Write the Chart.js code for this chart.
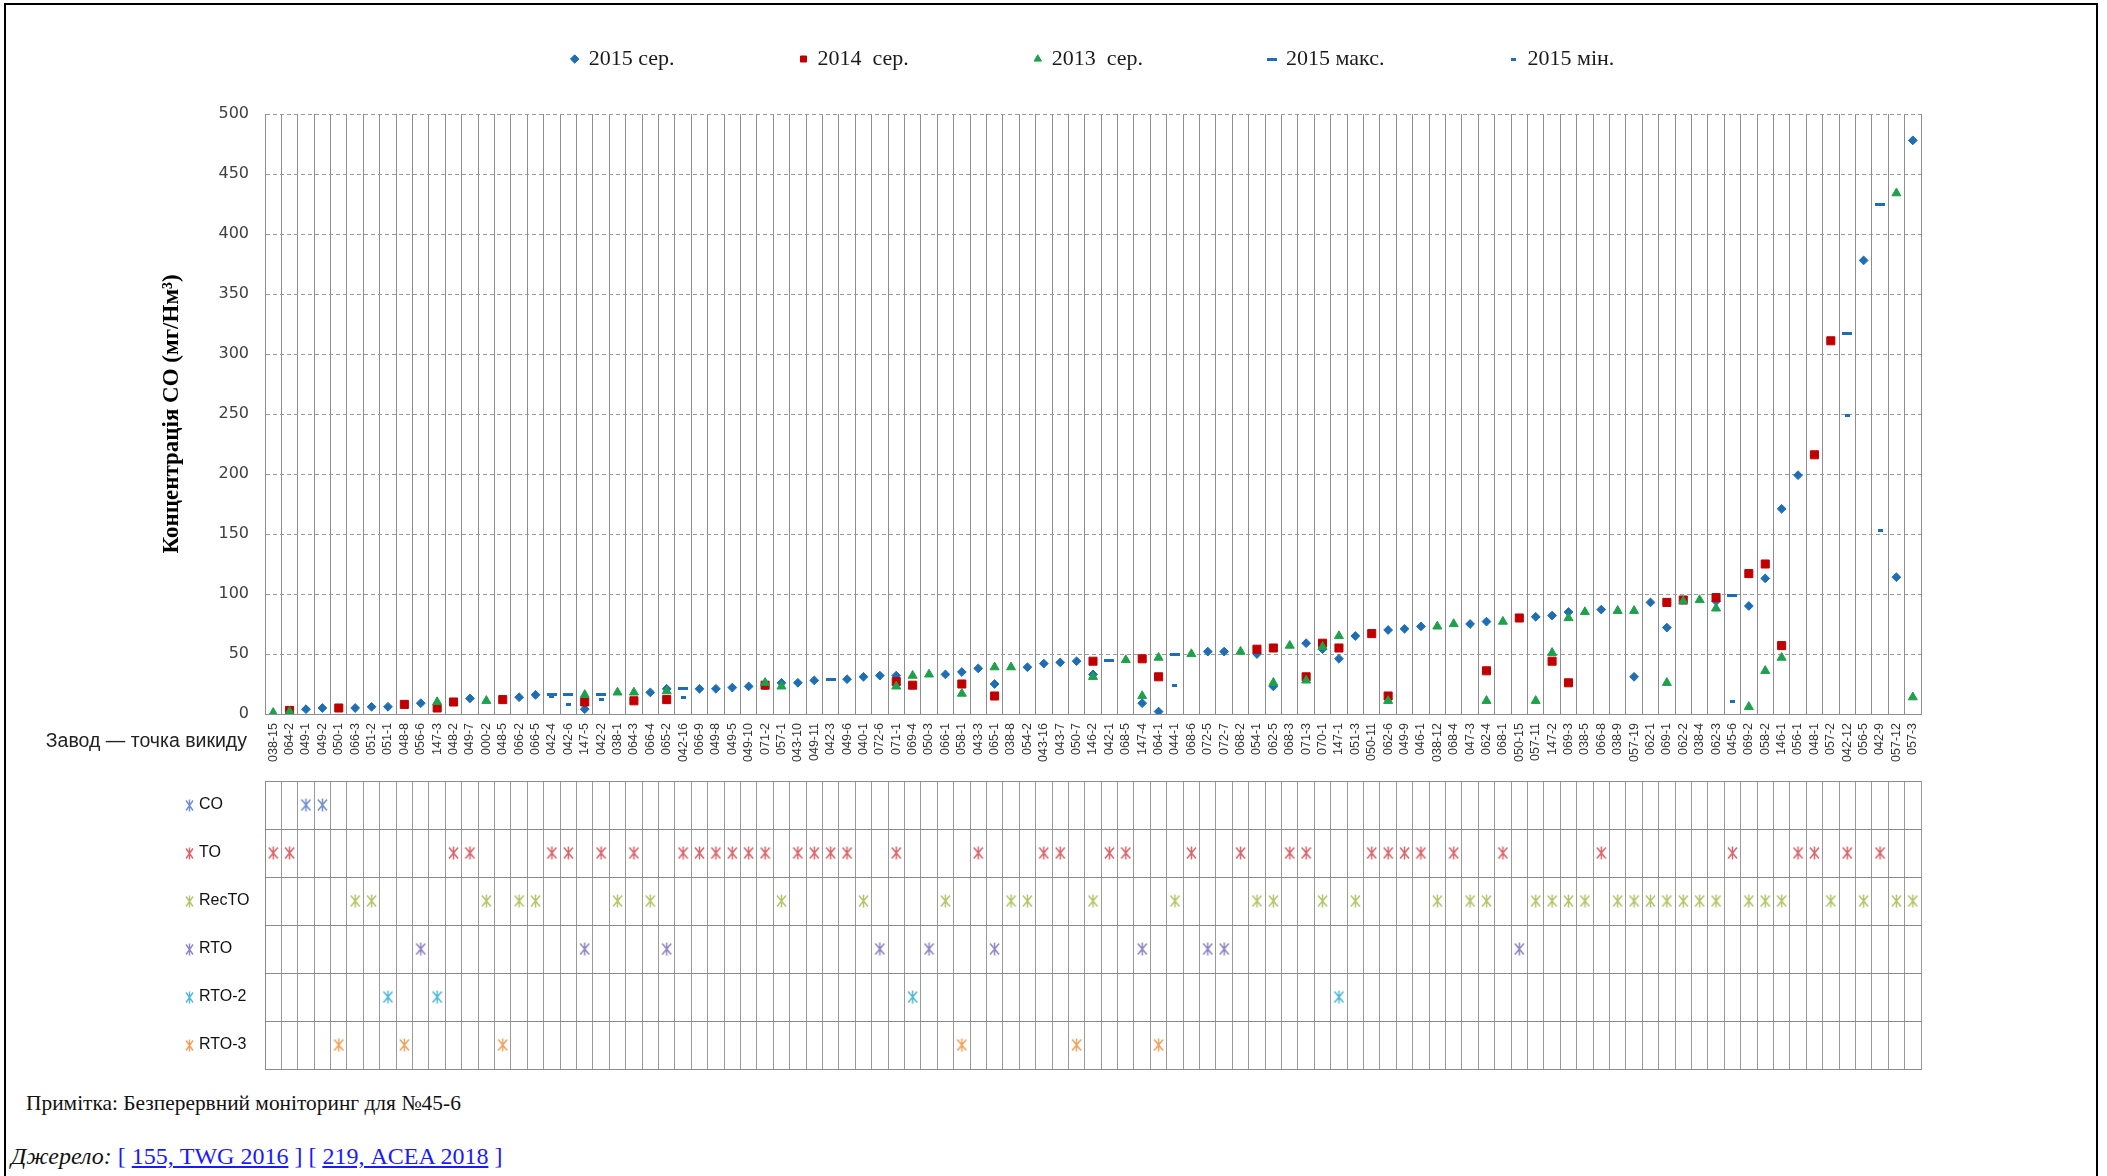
<!DOCTYPE html>
<html lang="uk">
<head>
<meta charset="utf-8">
<title>Концентрація CO</title>
<script src="https://cdn.jsdelivr.net/npm/chart.js@4.4.1/dist/chart.umd.min.js"></script>
<style>
  html, body { margin:0; padding:0; background:#fff; }
  body { position:relative; width:2107px; height:1176px; overflow:hidden; font-family:'Liberation Serif', serif; }
  #frame { position:absolute; left:4px; top:3px; width:2094px; height:1230px; border:2px solid #000; box-sizing:border-box; pointer-events:none; }
  #c1 { position:absolute; left:0; top:-78px; }
  #c2 { position:absolute; left:0; top:770px; }
  #xcap { position:absolute; left:0; width:247px; top:729px; text-align:right; font:19.5px/22px 'Liberation Sans', Arial, sans-serif; color:#222; white-space:nowrap; }
  #note { position:absolute; left:26px; top:1091px; font:21.4px/24px 'Liberation Serif', serif; color:#111; }
  #src { position:absolute; left:11px; top:1142px; font:24px/28px 'Liberation Serif', serif; color:#111; }
  #src .lk { color:#1a1aff; }
</style>
</head>
<body>
<canvas id="c1" width="2107" height="852"></canvas>
<canvas id="c2" width="2107" height="310"></canvas>
<div id="xcap">Завод — точка викиду</div>
<div id="note">Примітка: Безперервний моніторинг для №45-6</div>
<div id="src"><i>Джерело:</i> <span class="lk">[ <u>155, TWG 2016</u> ] [ <u>219, ACEA 2018</u> ]</span></div>
<div id="frame"></div>
<script>
// ---------------- DATA ----------------
const categories = ['038-15','064-2','049-1','049-2','050-1','066-3','051-2','051-1','048-8','056-6',
  '147-3','048-2','049-7','000-2','048-5','066-2','066-5','042-4','042-6','147-5',
  '042-2','038-1','064-3','066-4','065-2','042-16','066-9','049-8','049-5','049-10',
  '071-2','057-1','043-10','049-11','042-3','049-6','040-1','072-6','071-1','069-4',
  '050-3','066-1','058-1','043-3','065-1','038-8','054-2','043-16','043-7','050-7',
  '146-2','042-1','068-5','147-4','064-1','044-1','068-6','072-5','072-7','068-2',
  '054-1','062-5','068-3','071-3','070-1','147-1','051-3','050-11','062-6','049-9',
  '046-1','038-12','068-4','047-3','062-4','068-1','050-15','057-11','147-2','069-3',
  '038-5','066-8','038-9','057-19','062-1','069-1','062-2','038-4','062-3','045-6',
  '069-2','058-2','146-1','056-1','048-1','057-2','042-12','056-5','042-9','057-12',
  '057-3'];

const avg2015 = [
  null,null,4,5,null,5,6,6,null,9,
  null,null,13,null,null,14,16,null,null,4,
  null,null,null,18,21,null,21,21,22,23,
  24,26,26,28,null,29,31,32,32,null,
  null,33,35,38,25,null,39,42,43,44,
  33,null,null,9,2,null,null,52,52,null,
  50,23,null,59,54,46,65,null,70,71,
  73,null,null,75,77,null,null,81,82,85,
  null,87,null,31,93,72,null,null,94,null,
  90,113,171,199,null,null,null,378,null,114,
  478];

const avg2014 = [
  null,3,null,null,5,null,null,null,8,null,
  5,10,null,null,12,null,null,null,null,10,
  null,null,11,null,12,null,null,null,null,null,
  24,null,null,null,null,null,null,null,27,24,
  null,null,25,null,15,null,null,null,null,null,
  44,null,null,46,31,null,null,null,null,null,
  54,55,null,31,59,55,null,67,15,null,
  null,null,null,null,36,null,80,null,44,26,
  null,null,null,null,null,93,95,null,97,null,
  117,125,57,null,216,311,null,null,null,null,
  null];

const avg2013 = [
  1,2,null,null,null,null,null,null,null,null,
  10,null,null,11,null,null,null,null,null,16,
  null,18,18,null,19,null,null,null,null,null,
  26,23,null,null,null,null,null,null,23,32,
  33,null,17,null,39,39,null,null,null,null,
  31,null,45,15,47,null,50,null,null,52,
  null,26,57,28,56,65,null,null,11,null,
  null,73,75,null,11,77,null,11,51,80,
  85,null,86,86,null,26,94,95,88,null,
  6,36,47,null,null,null,null,null,null,434,
  14];

const max2015 = [
  null,null,null,null,null,null,null,null,null,null,
  null,null,null,null,null,null,null,16,16,null,
  16,null,null,null,null,21,null,null,null,null,
  null,null,null,null,29,null,null,null,null,null,
  null,null,null,null,null,null,null,null,null,null,
  null,45,null,null,null,50,null,null,null,null,
  null,null,null,null,null,null,null,null,null,null,
  null,null,null,null,null,null,null,null,null,null,
  null,null,null,null,null,null,null,null,null,99,
  null,null,null,null,null,null,317,null,425,null,
  null];

const min2015 = [
  null,null,null,null,null,null,null,null,null,null,
  null,null,null,null,null,null,null,15,8,null,
  12.5,null,null,null,null,14,null,null,null,null,
  null,null,null,null,null,null,null,null,null,null,
  null,null,null,null,null,null,null,null,null,null,
  null,null,null,null,null,23.5,null,null,null,null,
  null,null,null,null,null,null,null,null,null,null,
  null,null,null,null,null,null,null,null,null,null,
  null,null,null,null,null,null,null,null,null,10.5,
  null,null,null,null,null,null,249,null,153,null,
  null];

const seriesNames = ['2015 сер.', '2014  сер.', '2013  сер.', '2015 макс.', '2015 мін.'];

const techRows = ['CO', 'TO', 'RecTO', 'RTO', 'RTO-2', 'RTO-3'];
const techCO = ['049-1','049-2'];
const techTO = ['038-15','064-2','048-2','049-7','042-4','042-6','042-2','064-3','042-16','066-9',
  '049-8','049-5','049-10','071-2','043-10','049-11','042-3','049-6','071-1','043-3',
  '043-16','043-7','042-1','068-5','068-6','068-2','068-3','071-3','050-11','062-6',
  '049-9','046-1','068-4','068-1','066-8','045-6','056-1','048-1','042-12','042-9'];
const techRecTO = ['066-3','051-2','000-2','066-2','066-5','038-1','066-4','057-1','040-1','066-1',
  '038-8','054-2','146-2','044-1','054-1','062-5','070-1','051-3','038-12','047-3',
  '062-4','057-11','147-2','069-3','038-5','038-9','057-19','062-1','069-1','062-2',
  '038-4','062-3','069-2','058-2','146-1','057-2','056-5','057-12','057-3'];
const techRTO = ['056-6','147-5','065-2','072-6','050-3','065-1','147-4','072-5','072-7','050-15'];
const techRTO2 = ['051-1','147-3','069-4','147-1'];
const techRTO3 = ['050-1','048-8','048-5','058-1','050-7','064-1'];

// ---------------- STYLE ----------------
const cBlue = '#1f6db3', cRed = '#c00000', cGreen = '#1fa04c';
const techColors = ['#6f8fcf', '#d9646a', '#b1c66a', '#9282c4', '#4fb8d8', '#f0a05a'];

function makeDash(w, h, color) {
  const c = document.createElement('canvas');
  c.width = w; c.height = h;
  const g = c.getContext('2d');
  g.fillStyle = color; g.fillRect(0, 0, w, h);
  return c;
}
function makeStar(w, h, color, lw) {
  const c = document.createElement('canvas');
  c.width = w; c.height = h;
  const g = c.getContext('2d');
  g.strokeStyle = color; g.lineWidth = lw;
  g.beginPath();
  g.moveTo(1, 1.5); g.lineTo(w - 1, h - 1.5);
  g.moveTo(w - 1, 1.5); g.lineTo(1, h - 1.5);
  g.moveTo(w / 2, 0.5); g.lineTo(w / 2, h - 0.5);
  g.stroke();
  return c;
}
const dashWide = makeDash(10, 3, cBlue);
const dashSmall = makeDash(5, 3, cBlue);
const cellStars = techColors.map(col => makeStar(11, 14, col, 1.5));
const rowStars = techColors.map(col => makeStar(9, 13, col, 1.4));

Chart.defaults.font.family = "'Liberation Sans', Arial, sans-serif";
Chart.defaults.animation = false;

function pointDs(label, data, style, radius, color, order) {
  return {
    label, data, showLine: false, order,
    pointStyle: style, pointRadius: radius, pointHoverRadius: radius,
    pointBackgroundColor: color, pointBorderColor: color, pointBorderWidth: 1,
    backgroundColor: color, borderColor: color
  };
}

new Chart(document.getElementById('c1'), {
  type: 'line',
  data: {
    labels: categories,
    datasets: [
      pointDs(seriesNames[0], avg2015, 'rectRot', 4.4, cBlue, 3),
      pointDs(seriesNames[1], avg2014, 'rect', 5.7, cRed, 2),
      pointDs(seriesNames[2], avg2013, 'triangle', 5.2, cGreen, 1),
      pointDs(seriesNames[3], max2015, dashWide, 5, cBlue, 4),
      pointDs(seriesNames[4], min2015, dashSmall, 3, cBlue, 5)
    ]
  },
  options: {
    responsive: false,
    animation: false,
    layout: { padding: { left: 150, right: 186, top: 0, bottom: 0 } },
    plugins: {
      legend: {
        position: 'top', fullSize: false,
        labels: {
          usePointStyle: true, boxWidth: 6, boxHeight: 6, padding: 126,
          color: '#1a1a1a', font: { family: "'Liberation Serif', serif", size: 22 },
          sort: (a, b) => a.datasetIndex - b.datasetIndex
        }
      },
      title: { display: true, text: '', weight: 500, padding: { top: 0, bottom: 22 }, font: { size: 10 } },
      tooltip: { enabled: false }
    },
    scales: {
      x: {
        type: 'category', offset: true,
        grid: { offset: true, color: '#8e8e8e', lineWidth: 1, drawTicks: false },
        border: { display: true, color: '#8e8e8e' },
        ticks: { autoSkip: false, minRotation: 90, maxRotation: 90, padding: 9, color: '#333', font: { size: 12.5 } },
        afterFit(s) { s.height = 60; }
      },
      y: {
        min: 0, max: 500,
        ticks: { stepSize: 50, padding: 16, color: '#404040', font: { family: "'DejaVu Sans', Verdana, sans-serif", size: 16 } },
        grid: { color: '#9a9a9a', drawTicks: false },
        border: { display: true, color: '#8e8e8e', dash: [4, 3] },
        title: {
          display: true, text: 'Концентрація CO (мг/Нм³)', color: '#000',
          font: { family: "'Liberation Serif', serif", size: 23, weight: 'bold' },
          padding: { top: 8, bottom: 0 }
        },
        afterFit(s) { s.width = 115; }
      }
    }
  }
});

const techLists = [techCO, techTO, techRecTO, techRTO, techRTO2, techRTO3];
const rowMarkers = {
  id: 'rowMarkers',
  afterDraw(chart) {
    const s = chart.scales.y, ctx = chart.ctx;
    techRows.forEach((r, i) => {
      const img = rowStars[i];
      const py = s.getPixelForValue(i);
      ctx.drawImage(img, s.left - 5 - img.width, Math.round(py - img.height / 2));
    });
  }
};

new Chart(document.getElementById('c2'), {
  type: 'scatter',
  data: {
    datasets: techRows.map((row, i) => ({
      label: row,
      data: techLists[i].map(c => ({ x: c, y: row })),
      pointStyle: cellStars[i], pointRadius: 6, pointHoverRadius: 6,
      backgroundColor: techColors[i], borderColor: techColors[i]
    }))
  },
  options: {
    responsive: false,
    animation: false,
    layout: { padding: { left: 199, right: 186, top: 11, bottom: 11 } },
    plugins: { legend: { display: false }, tooltip: { enabled: false } },
    scales: {
      x: {
        type: 'category', labels: categories, offset: true,
        grid: { offset: true, color: '#9a9a9a', drawTicks: false },
        border: { display: true, color: '#8a8a8a' },
        ticks: { display: false },
        afterFit(s) { s.height = 0; }
      },
      y: {
        type: 'category', labels: techRows, offset: true,
        grid: { offset: true, color: '#8a8a8a', drawTicks: false },
        border: { display: true, color: '#8a8a8a' },
        ticks: { crossAlign: 'far', padding: 0, color: '#111', font: { size: 16 } },
        afterFit(s) { s.width = 66; }
      }
    }
  },
  plugins: [rowMarkers]
});
</script>
</body>
</html>
